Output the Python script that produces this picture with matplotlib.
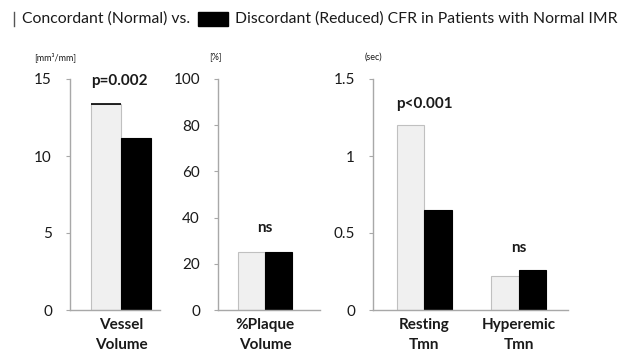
#!/usr/bin/env python3
# plot.py - concordant vs discordant CFR bar panels

import matplotlib
matplotlib.use("Agg")
import matplotlib.pyplot as plt
from matplotlib.patches import Rectangle
from matplotlib.lines import Line2D

plt.rcParams["font.family"] = ["Lato", "DejaVu Sans"]

# ===== Data =====
vessel_cats = ["Vessel\nVolume"]
vessel_conc = [13.4]
vessel_disc = [11.2]

plaque_cats = ["%Plaque\nVolume"]
plaque_conc = [25.0]
plaque_disc = [25.0]

tmn_cats = ["Resting\nTmn", "Hyperemic\nTmn"]
tmn_conc = [1.2, 0.22]
tmn_disc = [0.65, 0.26]

pvals_vessel = ["p=0.002"]
pvals_plaque = ["ns"]
pvals_tmn = ["p<0.001", "ns"]

LIGHT = "#f0f0f0"
LIGHT_EDGE = "#c0c0c0"
AXCOL = "#a8a8a8"
TXT = "#1a1a1a"
W, H = 630, 363


def px_axes(fig, x0, x1, ytop=79, ybot=310):
    return fig.add_axes([x0 / W, (H - ybot) / H, (x1 - x0) / W, (ybot - ytop) / H])


def style(ax, ymax, ticks, ticklabels, cats, unit, unit_x):
    ax.set_ylim(0, ymax)
    ax.set_yticks(ticks)
    ax.set_yticklabels(ticklabels, fontsize=11, color=TXT)
    ax.set_xticks(range(len(cats)))
    ax.set_xticklabels(cats, fontsize=11, fontweight="bold", color=TXT, linespacing=1.55)
    for s in ("top", "right"):
        ax.spines[s].set_visible(False)
    for s in ("left", "bottom"):
        ax.spines[s].set_color(AXCOL)
        ax.spines[s].set_linewidth(1.0)
    ax.tick_params(axis="y", length=3, color=AXCOL, pad=10)
    ax.tick_params(axis="x", length=0, pad=6)
    ax.text(unit_x, 1.095, unit, transform=ax.transAxes, fontsize=6.5, color=TXT,
            ha="center", va="center")


def bars(ax, conc, disc, width):
    xs = list(range(len(conc)))
    ax.bar([x - width / 2 for x in xs], conc, width, color=LIGHT, edgecolor=LIGHT_EDGE, linewidth=0.8)
    ax.bar([x + width / 2 for x in xs], disc, width, color="black", edgecolor="black", linewidth=0.8)


fig = plt.figure(figsize=(6.3, 3.63), dpi=100)

# --- panel 1: vessel volume ---
ax1 = px_axes(fig, 70, 160)
bars(ax1, vessel_conc, vessel_disc, 0.4)
ax1.hlines(vessel_conc, [-0.4], [0.0], color="black", linewidth=1.2)
ax1.set_xlim(-0.68, 0.52)
style(ax1, 15, [0, 5, 10, 15], ["0", "5", "10", "15"], vessel_cats, "[mm\u00b3/mm]", -0.17)
ax1.text(-0.02, 14.9, pvals_vessel[0], fontsize=11, fontweight="bold", color=TXT,
         ha="center", va="center")

# --- panel 2: plaque volume ---
ax2 = px_axes(fig, 218, 320)
bars(ax2, plaque_conc, plaque_disc, 0.4)
ax2.set_xlim(-0.70, 0.82)
style(ax2, 100, [0, 20, 40, 60, 80, 100], ["0", "20", "40", "60", "80", "100"],
      plaque_cats, "[%]", -0.03)
ax2.text(0, 35.5, pvals_plaque[0], fontsize=11, fontweight="bold", color=TXT,
         ha="center", va="center")

# --- panel 3: Tmn ---
ax3 = px_axes(fig, 373, 568)
bars(ax3, tmn_conc, tmn_disc, 0.29)
ax3.set_xlim(-0.54, 1.52)
style(ax3, 1.5, [0, 0.5, 1, 1.5], ["0", "0.5", "1", "1.5"], tmn_cats, "(sec)", 0.0)
ax3.text(0, 1.34, pvals_tmn[0], fontsize=11, fontweight="bold", color=TXT, ha="center", va="center")
ax3.text(1, 0.40, pvals_tmn[1], fontsize=11, fontweight="bold", color=TXT, ha="center", va="center")

# --- header legend (light swatch is cut off at the left edge, only its edge shows) ---
fig.lines.append(Line2D([14 / W, 14 / W], [(H - 26) / H, (H - 12) / H], transform=fig.transFigure,
                        color="#555555", linewidth=1.0))
fig.text(22 / W, (H - 19) / H, "Concordant (Normal) vs.", fontsize=11.3, color=TXT,
         va="center", ha="left")
fig.patches.append(Rectangle((198 / W, (H - 26) / H), 30 / W, 14 / H, transform=fig.transFigure,
                             facecolor="black", edgecolor="black"))
fig.text(235 / W, (H - 19) / H, "Discordant (Reduced) CFR in Patients with Normal IMR",
         fontsize=11.3, color=TXT, va="center", ha="left")

fig.savefig("out.png", dpi=100)
